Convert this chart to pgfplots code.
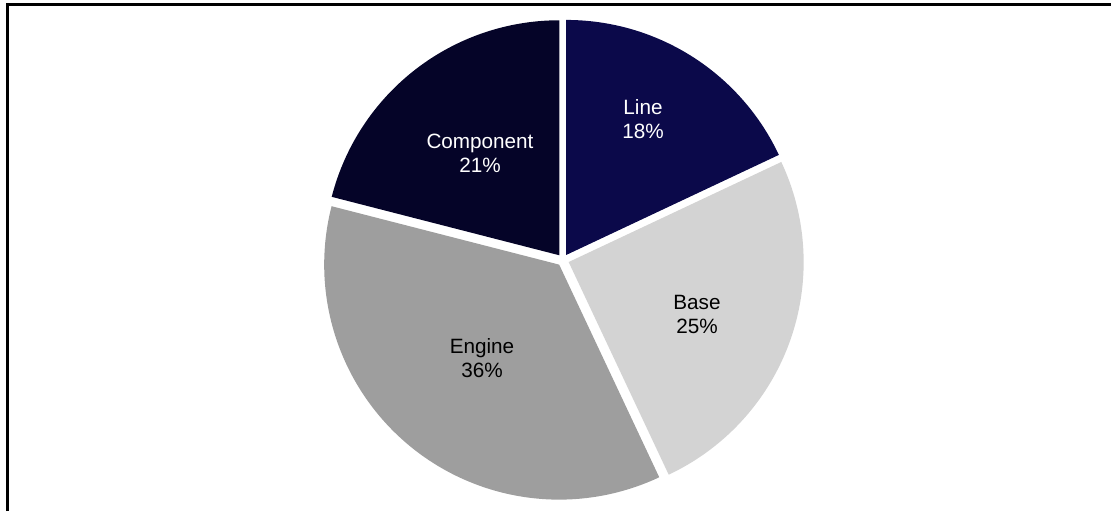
\documentclass[border=0pt]{standalone}
\usepackage{pgfplots}
\pgfplotsset{compat=1.18}
\usepackage{fontspec}
\setmainfont{Liberation Sans}
\definecolor{cLine}{RGB}{11,9,74}
\definecolor{cComp}{RGB}{5,4,40}
\definecolor{cBase}{RGB}{211,211,211}
\definecolor{cEng}{RGB}{158,158,158}
% start angle, percent, colour
\newcommand\pieslice[3]{%
  \pgfmathsetmacro\sa{#1}%
  \pgfmathsetmacro\ea{#1-3.6*#2}%
  \pgfmathsetmacro\ma{(\sa+\ea)/2}%
  \pgfmathsetmacro\cx{563+6*cos(\ma)}%
  \pgfmathsetmacro\cy{251+6*sin(\ma)}%
  \edef\tmp{\noexpand\addplot[fill=#3,draw=none,domain=\ea:\sa,samples=120,variable=\noexpand\t]
    ({\cx+235*cos(\noexpand\t)},{\cy+235*sin(\noexpand\t)}) -- (axis cs:\cx,\cy) -- cycle;}%
  \tmp
}
\begin{document}
\begin{tikzpicture}
\useasboundingbox (0,0) rectangle (555.5pt,255.5pt);
\begin{axis}[
  at={(0,0)}, anchor=south west,
  x=0.5pt, y=0.5pt,
  xmin=0, xmax=1111, ymin=0, ymax=511,
  hide axis, clip=false,
]
% frame
\addplot[black, line width=1.2pt, mark=none] coordinates {(7.5,0) (7.5,506.5) (1111,506.5)};
% slices: Line 18, Base 25, Engine 36, Component 21
\pieslice{90}{18}{cLine}
\pieslice{25.2}{25}{cBase}
\pieslice{-64.8}{36}{cEng}
\pieslice{-194.4}{21}{cComp}
\node[align=center, text=white, font=\fontsize{10.35}{12}\selectfont] at (axis cs:643,392) {Line\\18\%};
\node[align=center, text=black, font=\fontsize{10.35}{12}\selectfont] at (axis cs:697,197) {Base\\25\%};
\node[align=center, text=black, font=\fontsize{10.35}{12}\selectfont] at (axis cs:482,153) {Engine\\36\%};
\node[align=center, text=white, font=\fontsize{10.35}{12}\selectfont] at (axis cs:480,358) {Component\\21\%};
\end{axis}
\end{tikzpicture}
\end{document}
